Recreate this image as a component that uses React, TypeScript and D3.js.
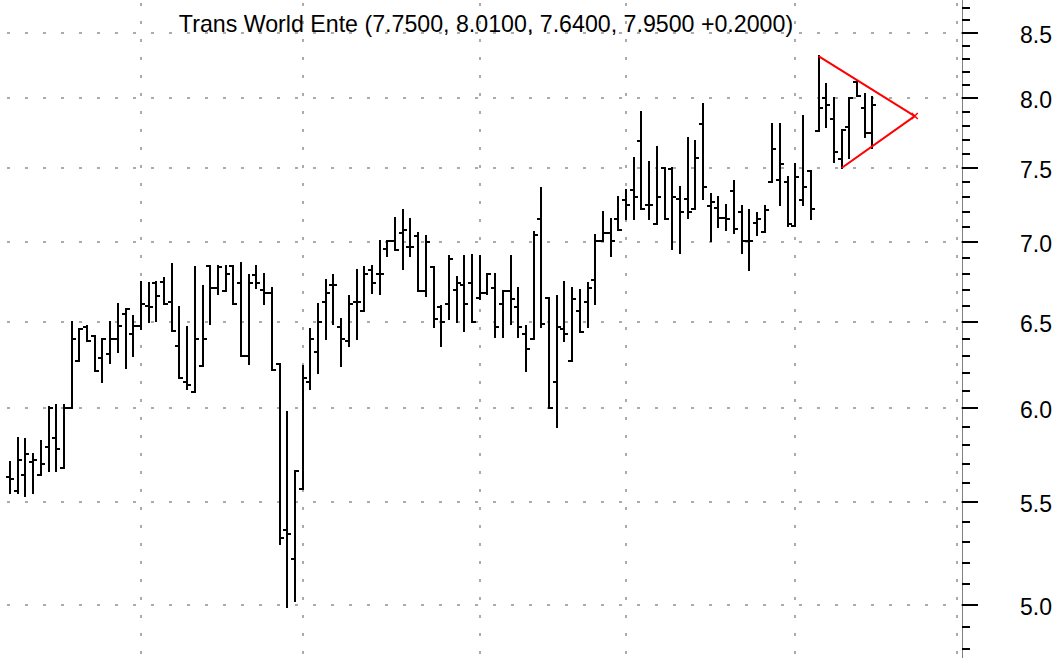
import React, { useEffect, useRef } from "react";
import * as d3 from "d3";

// daily OHLC, oldest first
const opens = [
  5.63, 5.56, 5.64, 5.71, 5.64, 5.79, 5.84, 5.68, 6.00, 6.27,
  6.47, 6.42, 6.29, 6.31, 6.40, 6.55, 6.43, 6.48, 6.60, 6.74,
  6.75, 6.62, 6.36, 6.15, 6.09, 6.24, 6.85, 6.71, 6.69, 6.85,
  6.74, 6.30, 6.79, 6.70, 6.68, 6.25, 5.36, 5.22, 5.57, 6.15,
  6.32, 6.62, 6.73, 6.47, 6.39, 6.62, 6.57, 6.82, 6.80, 6.96,
  7.01, 7.06, 6.97, 7.04, 6.69, 6.84, 6.59, 6.61, 6.70, 6.73,
  6.74, 6.65, 6.68, 6.71, 6.61, 6.69, 6.59, 6.43, 6.40, 7.15,
  6.65, 6.15, 6.46, 6.27, 6.57, 6.62, 6.76, 7.01, 7.06, 7.15,
  7.28, 7.35, 7.69, 7.25, 7.12, 7.50, 7.49, 7.29, 7.29, 7.22,
  7.81, 7.24, 7.23, 7.16, 7.34, 7.20, 7.01, 7.13, 7.07, 7.40,
  7.42, 7.40, 7.11, 7.28, 7.48, 7.76, 8.00, 7.85, 7.56, 7.79,
  8.12, 7.93, 7.75
];
const highs = [
  5.71, 5.84, 5.83, 5.75, 5.82, 6.01, 6.02, 6.02, 6.50, 6.46,
  6.48, 6.42, 6.40, 6.50, 6.61, 6.58, 6.54, 6.75, 6.74, 6.75,
  6.77, 6.86, 6.59, 6.47, 6.84, 6.72, 6.85, 6.85, 6.85, 6.85,
  6.87, 6.79, 6.85, 6.80, 6.71, 6.25, 5.98, 5.66, 6.24, 6.46,
  6.61, 6.76, 6.79, 6.52, 6.66, 6.82, 6.84, 6.85, 7.01, 7.01,
  7.16, 7.21, 7.15, 7.06, 7.04, 6.84, 6.60, 6.91, 6.78, 6.91,
  6.92, 6.91, 6.80, 6.80, 6.69, 6.91, 6.71, 6.48, 7.07, 7.36,
  6.65, 6.66, 6.75, 6.71, 6.70, 6.74, 7.05, 7.20, 7.15, 7.30,
  7.35, 7.57, 7.90, 7.54, 7.65, 7.50, 7.50, 7.37, 7.71, 7.69,
  7.96, 7.32, 7.30, 7.25, 7.41, 7.24, 7.21, 7.19, 7.24, 7.81,
  7.81, 7.44, 7.53, 7.87, 7.48, 8.32, 8.11, 8.00, 7.77, 8.00,
  8.13, 8.03, 8.01
];
const lows = [
  5.55, 5.55, 5.53, 5.55, 5.64, 5.66, 5.66, 5.68, 6.00, 6.27,
  6.39, 6.21, 6.15, 6.26, 6.32, 6.23, 6.30, 6.46, 6.50, 6.51,
  6.61, 6.45, 6.17, 6.11, 6.09, 6.24, 6.49, 6.67, 6.69, 6.61,
  6.30, 6.25, 6.71, 6.61, 6.22, 5.29, 4.99, 5.02, 5.57, 6.11,
  6.20, 6.40, 6.49, 6.24, 6.36, 6.40, 6.57, 6.68, 6.67, 6.91,
  6.95, 6.83, 6.91, 6.69, 6.66, 6.47, 6.36, 6.52, 6.50, 6.45,
  6.50, 6.64, 6.67, 6.41, 6.41, 6.49, 6.41, 6.21, 6.40, 6.47,
  6.00, 5.90, 6.39, 6.27, 6.44, 6.47, 6.61, 7.01, 6.91, 7.08,
  7.15, 7.15, 7.22, 7.15, 7.12, 7.15, 6.96, 6.93, 7.16, 7.22,
  7.29, 7.01, 7.10, 7.08, 7.06, 6.93, 6.82, 7.05, 7.07, 7.40,
  7.25, 7.11, 7.11, 7.25, 7.15, 7.76, 7.79, 7.54, 7.50, 7.57,
  8.02, 7.72, 7.64
];
const closes = [
  5.62, 5.72, 5.75, 5.72, 5.70, 6.00, 5.78, 6.00, 6.40, 6.46,
  6.39, 6.21, 6.40, 6.40, 6.48, 6.58, 6.48, 6.61, 6.59, 6.66,
  6.61, 6.45, 6.17, 6.13, 6.40, 6.40, 6.71, 6.84, 6.80, 6.61,
  6.30, 6.74, 6.74, 6.68, 6.22, 5.32, 5.34, 5.66, 6.17, 6.40,
  6.50, 6.68, 6.73, 6.40, 6.61, 6.62, 6.80, 6.74, 6.80, 7.01,
  6.95, 7.08, 6.97, 6.69, 7.00, 6.52, 6.50, 6.89, 6.74, 6.61,
  6.50, 6.68, 6.80, 6.47, 6.69, 6.64, 6.47, 6.34, 7.05, 6.49,
  6.00, 6.47, 6.43, 6.64, 6.44, 6.71, 7.01, 7.06, 7.01, 7.08,
  7.25, 7.30, 7.22, 7.25, 7.30, 7.15, 7.30, 7.20, 7.20, 7.57,
  7.37, 7.27, 7.16, 7.15, 7.09, 7.01, 7.01, 7.15, 7.21, 7.63,
  7.53, 7.12, 7.44, 7.37, 7.22, 7.93, 7.95, 7.61, 7.77, 8.00,
  8.02, 7.75, 7.95
];

// bar index where each month begins (last one is in the empty space on the right)
const monthStarts = [17, 38, 61, 80, 102, 123];

const majorTicks = [5.0, 5.5, 6.0, 6.5, 7.0, 7.5, 8.0, 8.5];
const minorTicks = [
  4.8, 4.9, 5.1, 5.2, 5.3, 5.4, 5.6, 5.7, 5.8, 5.9,
  6.1, 6.2, 6.3, 6.4, 6.6, 6.7, 6.8, 6.9, 7.1, 7.2,
  7.3, 7.4, 7.6, 7.7, 7.8, 7.9, 8.1, 8.2, 8.3, 8.4,
  8.6, 8.7
];

const title = "Trans World Ente (7.7500, 8.0100, 7.6400, 7.9500 +0.2000)";

// symmetrical triangle drawn on the last bars: [bar index, price]
const triangleUpper: [number, number][] = [[105, 8.32], [117.5, 7.87]];
const triangleLower: [number, number][] = [[108, 7.50], [117.5, 7.87]];

const W = 1061, H = 658;
const axisX = 962;
const font = "'Liberation Sans', Arial, sans-serif";

function OhlcChart() {
  const ref = useRef<SVGSVGElement | null>(null);

  useEffect(() => {
    const svg = d3.select(ref.current);
    svg.selectAll("*").remove();

    const x = d3.scaleLinear().domain([0, 123]).range([10, 957.1]);
    const y = d3.scaleLog().domain([4.76, 8.765]).range([H, 0]);
    const xr = (i: number) => Math.round(x(i));
    const yr = (v: number) => Math.round(y(v));

    svg.append("rect").attr("width", W).attr("height", H).attr("fill", "#fff");

    // dotted grid
    const grid = svg.append("g")
      .attr("stroke", "#ababab")
      .attr("stroke-width", 2)
      .attr("stroke-dasharray", "3,15")
      .attr("shape-rendering", "crispEdges");

    grid.selectAll("line.h")
      .data(majorTicks)
      .enter()
      .append("line")
      .attr("class", "h")
      .attr("x1", 7)
      .attr("x2", axisX)
      .attr("y1", d => yr(d))
      .attr("y2", d => yr(d));

    grid.selectAll("line.v")
      .data(monthStarts)
      .enter()
      .append("line")
      .attr("class", "v")
      .attr("x1", d => xr(d))
      .attr("x2", d => xr(d))
      .attr("y1", 3)
      .attr("y2", H);

    // title
    svg.append("text")
      .attr("x", 486)
      .attr("y", 32)
      .attr("text-anchor", "middle")
      .style("font-family", font)
      .style("font-size", "23.2px")
      .style("fill", "#000")
      .text(title);

    // ohlc bars
    const bars = svg.append("g")
      .attr("stroke", "#000")
      .attr("stroke-width", 2)
      .attr("shape-rendering", "crispEdges");

    const idx = d3.range(opens.length);
    const tick = 4;

    bars.selectAll("line.hl")
      .data(idx)
      .enter()
      .append("line")
      .attr("x1", i => xr(i))
      .attr("x2", i => xr(i))
      .attr("y1", i => yr(highs[i]) - 1)
      .attr("y2", i => yr(lows[i]) + 1);

    bars.selectAll("line.o")
      .data(idx)
      .enter()
      .append("line")
      .attr("x1", i => xr(i) - tick)
      .attr("x2", i => xr(i))
      .attr("y1", i => yr(opens[i]))
      .attr("y2", i => yr(opens[i]));

    bars.selectAll("line.c")
      .data(idx)
      .enter()
      .append("line")
      .attr("x1", i => xr(i))
      .attr("x2", i => xr(i) + tick)
      .attr("y1", i => yr(closes[i]))
      .attr("y2", i => yr(closes[i]));

    // triangle
    const line = d3.line<[number, number]>()
      .x(d => x(d[0]))
      .y(d => y(d[1]));

    const tri = svg.append("g")
      .attr("fill", "none")
      .attr("stroke", "#ff0000")
      .attr("stroke-width", 2);

    tri.append("path").attr("d", line(triangleUpper));
    tri.append("path").attr("d", line(triangleLower));

    const ax = x(triangleUpper[1][0]), ay = y(triangleUpper[1][1]);
    tri.append("path")
      .attr("stroke-width", 1.5)
      .attr("d", `M${ax - 3},${ay - 3}L${ax + 3},${ay + 3}M${ax - 3},${ay + 3}L${ax + 3},${ay - 3}`);

    // right price axis
    const axis = svg.append("g").attr("shape-rendering", "crispEdges");
    axis.append("line")
      .attr("x1", axisX + 0.5).attr("x2", axisX + 0.5)
      .attr("y1", 0).attr("y2", H)
      .attr("stroke", "#808080")
      .attr("stroke-width", 1);

    axis.selectAll("line.minor")
      .data(minorTicks)
      .enter()
      .append("line")
      .attr("x1", axisX)
      .attr("x2", axisX + 8)
      .attr("y1", d => yr(d))
      .attr("y2", d => yr(d))
      .attr("stroke", "#000")
      .attr("stroke-width", 2);

    axis.selectAll("line.major")
      .data(majorTicks)
      .enter()
      .append("line")
      .attr("x1", axisX)
      .attr("x2", axisX + 16)
      .attr("y1", d => yr(d))
      .attr("y2", d => yr(d))
      .attr("stroke", "#000")
      .attr("stroke-width", 2);

    axis.selectAll("text")
      .data(majorTicks)
      .enter()
      .append("text")
      .attr("x", 1020)
      .attr("y", d => y(d) + 10)
      .style("font-family", font)
      .style("font-size", "23px")
      .style("fill", "#000")
      .text(d => d.toFixed(1));
  }, []);

  return <svg ref={ref} width={W} height={H} style={{ position: "absolute", left: 0, top: 0 }} />;
}

export default function App() {
  return <OhlcChart />;
}
